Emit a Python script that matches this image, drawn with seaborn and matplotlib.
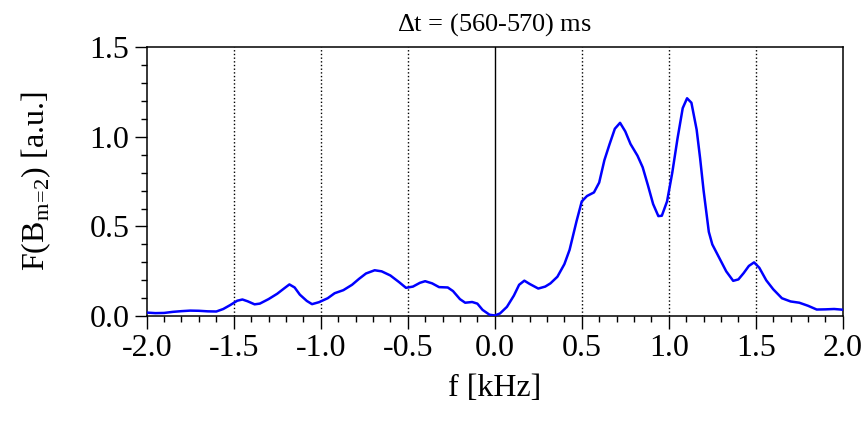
import seaborn as sns; sns.set_style("ticks")
import matplotlib
matplotlib.use("Agg")
import matplotlib.pyplot as plt
from matplotlib.ticker import MultipleLocator
import pandas as pd

plt.rcParams['font.family'] = ['Liberation Serif', 'DejaVu Serif']
plt.rcParams['mathtext.fontset'] = 'custom'
plt.rcParams['mathtext.rm'] = 'Liberation Serif'
plt.rcParams['text.color'] = 'black'
plt.rcParams['axes.labelcolor'] = 'black'

# spectrum
freq = [-2.00, -1.95, -1.90, -1.85, -1.80, -1.75, -1.70, -1.65, -1.60, -1.56,
        -1.52, -1.48, -1.45, -1.42, -1.38, -1.35, -1.30, -1.25, -1.21, -1.18,
        -1.15, -1.12, -1.08, -1.05, -1.01, -0.96, -0.92, -0.87, -0.82, -0.78,
        -0.74, -0.69, -0.65, -0.60, -0.55, -0.51, -0.47, -0.43, -0.40, -0.36,
        -0.32, -0.27, -0.24, -0.20, -0.17, -0.13, -0.10, -0.07, -0.03, 0.00,
        0.03, 0.07, 0.11, 0.14, 0.17, 0.20, 0.25, 0.29, 0.32, 0.36,
        0.40, 0.43, 0.47, 0.50, 0.53, 0.57, 0.60, 0.63, 0.66, 0.69,
        0.72, 0.75, 0.78, 0.82, 0.85, 0.88, 0.91, 0.94, 0.96, 0.99,
        1.02, 1.05, 1.08, 1.105, 1.13, 1.16, 1.18, 1.20, 1.23, 1.25,
        1.29, 1.33, 1.37, 1.40, 1.43, 1.46, 1.49, 1.52, 1.56, 1.60,
        1.65, 1.70, 1.75, 1.80, 1.85, 1.90, 1.95, 2.00]
amp = [0.020, 0.017, 0.018, 0.024, 0.028, 0.031, 0.030, 0.027, 0.026, 0.040,
       0.062, 0.086, 0.093, 0.083, 0.066, 0.070, 0.095, 0.125, 0.155, 0.177,
       0.160, 0.120, 0.085, 0.067, 0.078, 0.100, 0.128, 0.145, 0.175, 0.208,
       0.238, 0.256, 0.250, 0.227, 0.190, 0.158, 0.165, 0.186, 0.195, 0.183,
       0.162, 0.160, 0.140, 0.095, 0.075, 0.079, 0.070, 0.035, 0.008, 0.004,
       0.015, 0.052, 0.115, 0.175, 0.198, 0.180, 0.154, 0.165, 0.183, 0.220,
       0.290, 0.370, 0.530, 0.640, 0.670, 0.690, 0.745, 0.870, 0.960, 1.045,
       1.078, 1.030, 0.960, 0.895, 0.830, 0.730, 0.625, 0.558, 0.560, 0.640,
       0.800, 0.990, 1.160, 1.215, 1.190, 1.040, 0.880, 0.700, 0.470, 0.400,
       0.325, 0.250, 0.197, 0.205, 0.240, 0.280, 0.300, 0.270, 0.200, 0.150,
       0.100, 0.082, 0.075, 0.058, 0.037, 0.038, 0.040, 0.036]
dotted_at = [-1.5, -1.0, -0.5, 0.5, 1.0, 1.5]

df = pd.DataFrame({'f': freq, 'F': amp})

fig = plt.figure(figsize=(8.68, 4.21), dpi=100)
ax = fig.add_axes([0.169, 0.249, 0.802, 0.639])
for v in dotted_at:
    ax.axvline(v, color='black', linestyle=':', linewidth=1.0, zorder=1)
ax.axvline(0.0, color='black', linewidth=1.0, zorder=1)
sns.lineplot(x='f', y='F', data=df, color='#0000ff', linewidth=1.8, ax=ax, zorder=3)

ax.set_xlim(-2.0, 2.0)
ax.set_ylim(0.0, 1.5)
ax.xaxis.set_major_locator(MultipleLocator(0.5))
ax.xaxis.set_minor_locator(MultipleLocator(0.1))
ax.yaxis.set_major_locator(MultipleLocator(0.5))
ax.yaxis.set_minor_locator(MultipleLocator(0.1))
ax.xaxis.set_major_formatter(plt.FuncFormatter(lambda v, p: '%.1f' % v))
ax.yaxis.set_major_formatter(plt.FuncFormatter(lambda v, p: '%.1f' % v))
ax.tick_params(which='major', direction='out', length=9, width=1.0, labelsize=23,
               colors='black', labelcolor='black')
ax.tick_params(which='minor', direction='out', length=4.5, width=1.0, colors='black')
for s in ax.spines.values():
    s.set_linewidth(1.1)
    s.set_color('black')

ax.set_xlabel('f [kHz]', fontsize=23, labelpad=8)
ax.set_ylabel(r'F(B$_{\mathrm{m}\!=\!\mathrm{2}}$) [a.u.]', fontsize=23, labelpad=26)
ax.set_title(r'$\Delta$t = (560-570) ms', fontsize=19, pad=12)

plt.savefig('out.png', dpi=100)
